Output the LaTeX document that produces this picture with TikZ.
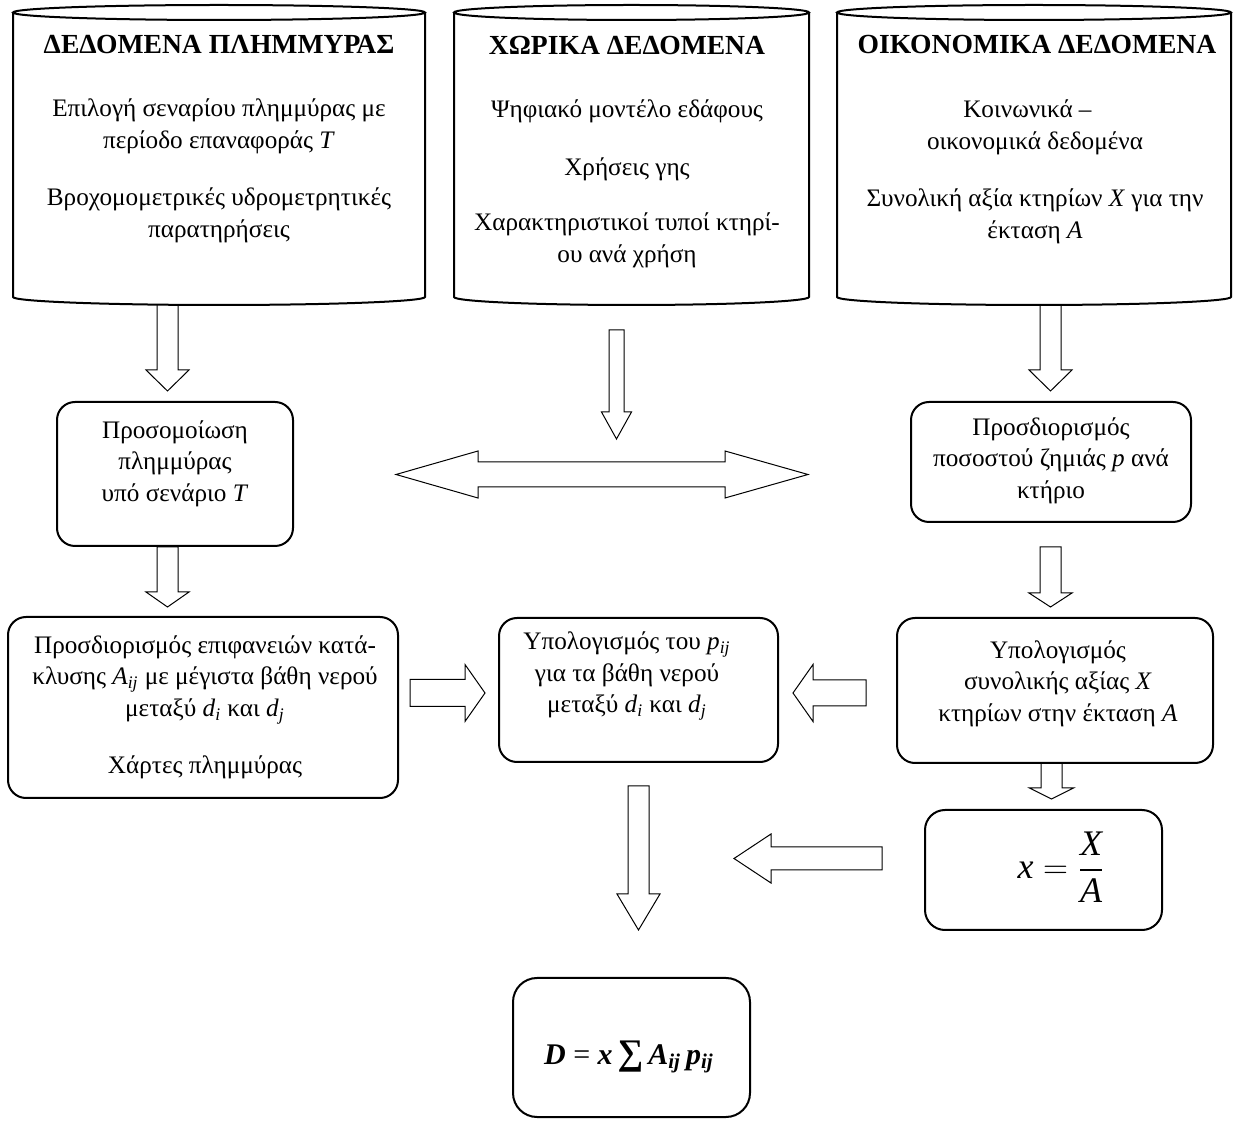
\documentclass[tikz,border=0pt]{standalone}
\usepackage{exscale}
\usepackage{fontspec}
\setmainfont{Liberation Serif}
\usetikzlibrary{calc}

\tikzset{
  cylline/.style={line width=1pt},
  procbox/.style={draw, line width=1pt, rounded corners=9pt, inner sep=0pt, fill=white},
  arrowline/.style={draw, line width=0.5pt, fill=white, line join=miter},
  bodytext/.style={align=center, font=\fontsize{12.6}{15.75}\selectfont, inner sep=0pt},
  headtext/.style={font=\fontsize{13.8}{16}\selectfont\bfseries, inner sep=0pt},
}

% hollow block arrow: #1 tail, #2 tip, #3 half shaft width, #4 half head width, #5 head length
\newcommand{\blockarrow}[5]{%
  \path ($(#2)!#5!(#1)$) coordinate (bahead);
  \draw[arrowline] ($(#1)!#3!90:(#2)$)
    -- ($(bahead)!#3!90:(#2)$) -- ($(bahead)!#4!90:(#2)$) -- (#2)
    -- ($(bahead)!#4!-90:(#2)$) -- ($(bahead)!#3!-90:(#2)$)
    -- ($(#1)!#3!-90:(#2)$) -- cycle;
}

% data store drum: #1 left x, #2 right x
\newcommand{\datadrum}[2]{%
  \pgfmathsetmacro{\drumcx}{(#1+#2)/2}
  \pgfmathsetmacro{\drumrx}{(#2-#1)/2}
  \pgfmathsetmacro{\drumkx}{0.552*\drumrx}
  \fill[white] (#1,12.5) -- (#1,297) .. controls (#1,301.4) and (\drumcx-\drumkx,305) .. (\drumcx,305)
     .. controls (\drumcx+\drumkx,305) and (#2,301.4) .. (#2,297) -- (#2,12.5) -- cycle;
  \draw[cylline] (#1,12.5) -- (#1,297) .. controls (#1,301.4) and (\drumcx-\drumkx,305) .. (\drumcx,305)
     .. controls (\drumcx+\drumkx,305) and (#2,301.4) .. (#2,297) -- (#2,12.5);
  \draw[cylline, fill=white] (\drumcx,12.5) ellipse [x radius=\drumrx, y radius=7.5];
}

\newcommand{\bi}[1]{\textbf{\textit{#1}}}

\begin{document}
\begin{tikzpicture}[x=0.5pt, y=-0.5pt]
\useasboundingbox (0,0) rectangle (1233,1122);

% arrow end points
\coordinate (a1s) at (167.5,298);  \coordinate (a1e) at (167.5,391);
\coordinate (a2s) at (616.5,330);  \coordinate (a2e) at (616.5,439);
\coordinate (a3s) at (1050.5,298); \coordinate (a3e) at (1050.5,391);
\coordinate (a4s) at (167.5,547);  \coordinate (a4e) at (167.5,607);
\coordinate (a5s) at (1050.5,547); \coordinate (a5e) at (1050.5,607);
\coordinate (a6s) at (410,693);    \coordinate (a6e) at (485,693);
\coordinate (a7s) at (866,693);    \coordinate (a7e) at (793,693);
\coordinate (a8s) at (1051.5,763); \coordinate (a8e) at (1051.5,799);
\coordinate (a9s) at (882,858.5);  \coordinate (a9e) at (734,858.5);
\coordinate (a10s) at (638.5,786); \coordinate (a10e) at (638.5,930);
\coordinate (dl) at (396,474.5);   \coordinate (dr) at (808,474.5);

% block arrows
\blockarrow{a1s}{a1e}{5.25pt}{10.75pt}{10.5pt}
\blockarrow{a2s}{a2e}{3.75pt}{7.5pt}{13.5pt}
\blockarrow{a3s}{a3e}{5.25pt}{10.75pt}{10.5pt}
\blockarrow{a4s}{a4e}{5.25pt}{10.75pt}{7.5pt}
\blockarrow{a5s}{a5e}{5.25pt}{10.75pt}{7pt}
\blockarrow{a6s}{a6e}{6.75pt}{14.25pt}{10pt}
\blockarrow{a7s}{a7e}{6.5pt}{14.25pt}{10pt}
\blockarrow{a8s}{a8e}{5.25pt}{11pt}{5.5pt}
\blockarrow{a9s}{a9e}{5.75pt}{12.25pt}{18.5pt}
\blockarrow{a10s}{a10e}{5.25pt}{10.75pt}{18pt}

% two-headed arrow
\draw[arrowline] (dl) -- ($(dl)+(82,-23.5)$) -- ($(dl)+(82,-12.5)$) -- ($(dr)+(-83,-12.5)$)
  -- ($(dr)+(-83,-23.5)$) -- (dr) -- ($(dr)+(-83,23.5)$) -- ($(dr)+(-83,12.5)$)
  -- ($(dl)+(82,12.5)$) -- ($(dl)+(82,23.5)$) -- cycle;

% data stores
\datadrum{13}{425}
\datadrum{454}{809}
\datadrum{837}{1231}

\node[headtext] (c1head) at (219,45) {ΔΕΔΟΜΕΝΑ ΠΛΗΜΜΥΡΑΣ};
\node[bodytext] (c1body) at (219,171) {Επιλογή σεναρίου πλημμύρας με\\ περίοδο επαναφοράς \textit{T}\\[13pt]
  Βροχομομετρικές υδρομετρητικές\\ παρατηρήσεις};

\node[headtext] (c2head) at (627,46) {ΧΩΡΙΚΑ ΔΕΔΟΜΕΝΑ};
\node[bodytext] (c2body) at (627,184) {Ψηφιακό μοντέλο εδάφους\\[13pt] Χρήσεις γης\\[12pt]
  Χαρακτηριστικοί τυποί κτηρί-\\ ου ανά χρήση};

\node[headtext] (c3head) at (1037,45) {ΟΙΚΟΝΟΜΙΚΑ ΔΕΔΟΜΕΝΑ};
\node[bodytext] (c3body) at (1035,172) {Κοινωνικά –\hspace*{0.6em}\\ οικονομικά δεδομένα\\[13pt]
  Συνολική αξία κτηρίων \textit{X} για την\\ έκταση \textit{A}};

% process boxes
\node[procbox, minimum width=118pt, minimum height=72pt] (sim) at (175,474) {};
\node[procbox, minimum width=140pt, minimum height=60pt] (prosd) at (1051,462) {};
\node[procbox, minimum width=195pt, minimum height=90.5pt] (flood) at (203,707.5) {};
\node[procbox, minimum width=139.5pt, minimum height=72pt] (mid) at (638.5,690) {};
\node[procbox, minimum width=158pt, minimum height=72.5pt] (ypol) at (1055,690.5) {};
\node[procbox, minimum width=118.5pt, minimum height=60pt, rounded corners=10pt] (xbox) at (1043.5,870) {};
\node[procbox, minimum width=118.5pt, minimum height=69.5pt, rounded corners=12pt] (dbox) at (631.5,1047.5) {};

\node[bodytext] (simtxt) at (175,463.5) {Προσομοίωση\\ πλημμύρας\\ υπό σενάριο \textit{T}};
\node[bodytext] (prosdtxt) at (1051,460.5) {Προσδιορισμός\\ ποσοστού ζημιάς \textit{p} ανά\\ κτήριο};
\node[bodytext] (floodtxt) at (205,707.5) {Προσδιορισμός επιφανειών κατά-\\
  κλυσης \textit{A}\textsubscript{\textit{ij}} με μέγιστα βάθη νερού\\ μεταξύ \textit{d}\textsubscript{\textit{i}} και \textit{d}\textsubscript{\textit{j}}\\[13pt]
  Χάρτες πλημμύρας};
\node[bodytext] (midtxt) at (627,676) {Υπολογισμός του \textit{p}\textsubscript{\textit{ij}}\\ για τα βάθη νερού\\
  μεταξύ \textit{d}\textsubscript{\textit{i}} και \textit{d}\textsubscript{\textit{j}}};
\node[bodytext] (ypoltxt) at (1058,683.5) {Υπολογισμός\\ συνολικής αξίας \textit{X}\\ κτηρίων στην έκταση \textit{A}};

\node[inner sep=0pt, font=\fontsize{18}{21}\selectfont] (xformula) at (1061,867)
  {$\textit{x} = \displaystyle\frac{\textit{X}}{\textit{A}}$};
\node[inner sep=0pt, font=\fontsize{15}{18}\selectfont] (dformula) at (629,1057)
  {\bi{D} = \bi{x}\,{\fontsize{18}{18}\selectfont\bfseries ∑}\,\bi{A}\textsubscript{\bi{ij}}\,\bi{p}\textsubscript{\bi{ij}}};
\end{tikzpicture}
\end{document}
